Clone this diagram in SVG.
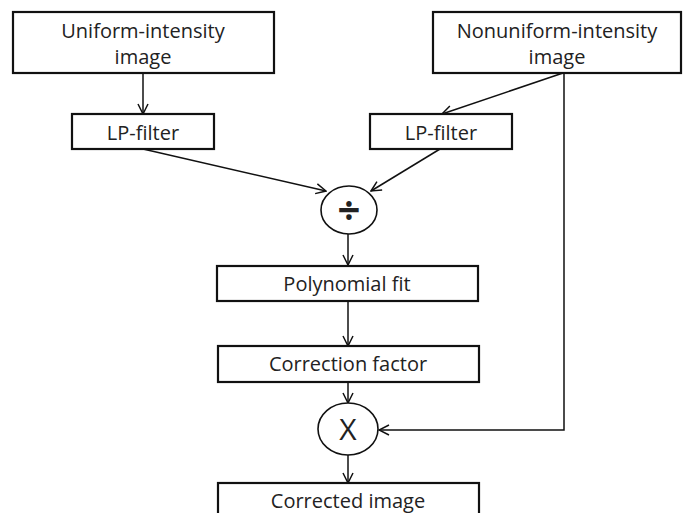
<svg xmlns="http://www.w3.org/2000/svg" width="684" height="513" viewBox="0 0 684 513">
<defs>
<marker id="arr" viewBox="0 0 12 12" refX="11" refY="6" markerWidth="12" markerHeight="12" markerUnits="userSpaceOnUse" orient="auto">
<path d="M1,1 L11,6 L1,11" fill="none" stroke="#111" stroke-width="1.5"/>
</marker>
<style>
.box{fill:#fff;stroke:#111;stroke-width:2.2}
.op{fill:#fff;stroke:#111;stroke-width:1.6}
.t{font-family:"Open Sans","Liberation Sans",sans-serif;font-size:20px;fill:#222;text-anchor:middle}
.c{fill:none;stroke:#111;stroke-width:1.5}
</style>
</defs>
<rect width="684" height="513" fill="#fff"/>
<g id="connectors">
<line class="c" x1="143" y1="73" x2="143" y2="114" marker-end="url(#arr)"/>
<line class="c" x1="563" y1="73" x2="442" y2="114" marker-end="url(#arr)"/>
<line class="c" x1="143" y1="149" x2="326" y2="191" marker-end="url(#arr)"/>
<line class="c" x1="440" y1="149" x2="371" y2="191" marker-end="url(#arr)"/>
<line class="c" x1="348" y1="234" x2="348" y2="265" marker-end="url(#arr)"/>
<line class="c" x1="348" y1="301" x2="348" y2="346" marker-end="url(#arr)"/>
<line class="c" x1="348" y1="382" x2="348" y2="403" marker-end="url(#arr)"/>
<polyline class="c" points="564,73 564,430 379,430" marker-end="url(#arr)"/>
<line class="c" x1="348" y1="455" x2="348" y2="483" marker-end="url(#arr)"/>
</g>
<g id="uniform">
<rect class="box" x="13" y="12" width="261" height="61"/>
<text class="t" x="143" y="38">Uniform-intensity</text>
<text class="t" x="143" y="64">image</text>
</g>
<g id="nonuniform">
<rect class="box" x="433" y="12" width="248" height="61"/>
<text class="t" x="557" y="38">Nonuniform-intensity</text>
<text class="t" x="557" y="64">image</text>
</g>
<g id="lp1">
<rect class="box" x="72" y="114" width="142" height="35"/>
<text class="t" x="143" y="140">LP-filter</text>
</g>
<g id="lp2">
<rect class="box" x="370" y="114" width="142" height="35"/>
<text class="t" x="441" y="140">LP-filter</text>
</g>
<g id="divide">
<ellipse class="op" cx="349" cy="210" rx="28" ry="24"/>
<text class="t" x="349" y="224" style="font-size:40px;font-weight:bold">÷</text>
</g>
<g id="polyfit">
<rect class="box" x="217" y="266" width="261" height="35"/>
<text class="t" x="347" y="291">Polynomial fit</text>
</g>
<g id="correction">
<rect class="box" x="218" y="346" width="261" height="36"/>
<text class="t" x="348" y="371">Correction factor</text>
</g>
<g id="multiply">
<ellipse class="op" cx="348" cy="429" rx="30" ry="26"/>
<text class="t" x="348" y="440" style="font-size:30px">X</text>
</g>
<g id="corrected">
<rect class="box" x="218" y="483" width="261" height="40"/>
<text class="t" x="348" y="508">Corrected image</text>
</g>
</svg>
